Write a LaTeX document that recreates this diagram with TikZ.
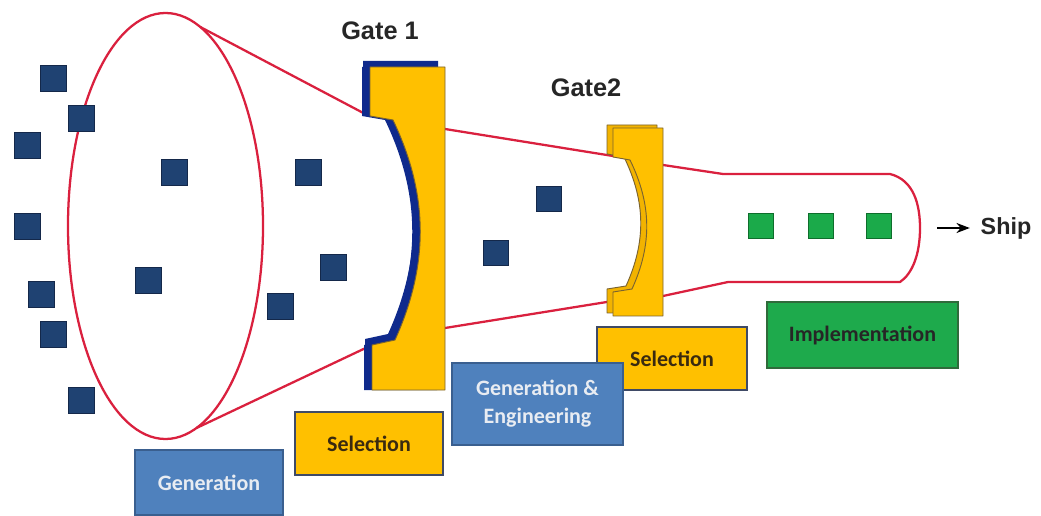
\documentclass[tikz,border=0pt]{standalone}
\usepackage{fontspec}
\usetikzlibrary{arrows.meta}
\newfontfamily\calfont{Carlito}
\newfontfamily\arifont{Liberation Sans}
\definecolor{funnelred}{RGB}{218,32,62}
\definecolor{gateyellow}{HTML}{FFC000}
\definecolor{gateshade}{HTML}{F2B300}
\definecolor{gateedge}{HTML}{7A6330}
\definecolor{gatenavy}{HTML}{0F2A8C}
\definecolor{sqnavy}{HTML}{1F4272}
\definecolor{sqedge}{HTML}{14284A}
\definecolor{sqgreen}{HTML}{1BAA4A}
\definecolor{sqgreenedge}{HTML}{0E6E2C}
\definecolor{boxblue}{HTML}{4F81BD}
\definecolor{boxblueedge}{HTML}{3A5F8F}
\definecolor{boxyellowedge}{HTML}{3F4A66}
\definecolor{boxgreen}{HTML}{1EAA4C}
\definecolor{boxgreenedge}{HTML}{2F6B3A}
\definecolor{seltext}{HTML}{3A2A10}
\definecolor{gentext}{HTML}{E8ECF2}
\begin{document}
\begin{tikzpicture}[x=0.75pt,y=-0.75pt,
  funnel/.style={draw=funnelred,line width=1.7pt,line join=round},
  navysq/.style={draw=sqedge,line width=0.6pt,fill=sqnavy,minimum size=19.5pt,inner sep=0pt},
  greensq/.style={draw=sqgreenedge,line width=0.6pt,fill=sqgreen,minimum size=18.75pt,inner sep=0pt},
  bluebox/.style={draw=boxblueedge,line width=1.2pt,fill=boxblue,text=gentext,font=\calfont\bfseries\fontsize{16.5}{21}\selectfont,align=center,inner sep=0pt},
  yellowbox/.style={draw=boxyellowedge,line width=1.2pt,fill=gateyellow,text=seltext,font=\calfont\bfseries\fontsize{16.5}{21}\selectfont,inner sep=0pt},
  greenbox/.style={draw=boxgreenedge,line width=1.2pt,fill=boxgreen,text=black!85,font=\calfont\bfseries\fontsize{16.5}{21}\selectfont,inner sep=0pt},
  gatelabel/.style={font=\arifont\bfseries\fontsize{19}{22}\selectfont,text=black!85,inner sep=0pt},
  gatefill/.style={fill=gateyellow,draw=gateedge,line width=0.7pt,line join=round}
]
\useasboundingbox[fill=white] (0,0) rectangle (1041,516);

% funnel outline
\draw[funnel] (165.5,226) ellipse [x radius=73.125pt, y radius=159.75pt];
\draw[funnel] (200.3,27) -- (369,116);
\draw[funnel] (196.5,428) -- (372,345);
\draw[funnel] (445,129) -- (613,156);
\draw[funnel] (445,328) -- (613,301);
\draw[funnel] (663,165) -- (723,174) -- (890,174)
  .. controls (914,180) and (920,205) .. (920,228)
  .. controls (920,255) and (912,274) .. (900,282) -- (728,282) -- (663,296);

% Gate 1
\def\gateonepath{(370,67) -- (445,67) -- (445,390) -- (372,390) -- (372,345) -- (395,340) .. controls (429,265) and (429,195) .. (393,120) -- (370,116) -- cycle}
\fill[gatenavy,shift={(-7,-6)}] \gateonepath;
\fill[gatenavy,shift={(-8,0)}] \gateonepath;
\draw[gatefill] \gateonepath;

% Gate 2
\def\gatetwopath{(613,128) -- (663,128) -- (663,316) -- (613,316) -- (613,292) -- (632,289) .. controls (652,245) and (652,205) .. (630,160) -- (613,157) -- cycle}
\draw[gatefill,fill=gateshade,shift={(-6,-3)}] \gatetwopath;
\draw[gatefill] \gatetwopath;

% gate labels
\node[gatelabel] (g1) at (380,31) {Gate 1};
\node[gatelabel] (g2) at (586,88) {Gate2};

% navy squares
\node[navysq] (s1) at (53.7,78.3) {};
\node[navysq] (s2) at (81.2,118.7) {};
\node[navysq] (s3) at (27.3,145.8) {};
\node[navysq] (s4) at (174,172.9) {};
\node[navysq] (s5) at (307.9,172.9) {};
\node[navysq] (s6) at (27.3,226.2) {};
\node[navysq] (s7) at (148,280) {};
\node[navysq] (s8) at (333.7,267) {};
\node[navysq] (s9) at (41.3,294) {};
\node[navysq] (s10) at (280.3,306.7) {};
\node[navysq] (s11) at (53.7,334.5) {};
\node[navysq] (s12) at (81.2,400.8) {};
\node[navysq,minimum size=18.75pt] (s13) at (548.5,199) {};
\node[navysq,minimum size=18.75pt] (s14) at (495.5,252.7) {};

% green squares
\node[greensq] (q1) at (760.8,226.3) {};
\node[greensq] (q2) at (820.8,226.3) {};
\node[greensq] (q3) at (879.2,226.3) {};

% Ship
\coordinate (shipstart) at (937,228);
\node[font=\arifont\bfseries\fontsize{17.5}{20}\selectfont,text=black!85,inner sep=0pt] (ship) at (1006,228) {Ship};
\draw[line width=1.6pt,-{Stealth[length=10pt,width=7.5pt]},shorten >=8pt] (shipstart) -- (ship.west);

% stage boxes
\node[bluebox,minimum width=111pt,minimum height=48.75pt] (gen) at (209,482.5) {Generation};
\node[yellowbox,minimum width=111pt,minimum height=47.25pt] (sel1) at (369,443.5) {Selection};
\node[yellowbox,minimum width=112.5pt,minimum height=47.25pt] (sel2) at (672,358.5) {Selection};
\node[bluebox,minimum width=128.25pt,minimum height=61.5pt] (geneng) at (537.5,404) {Generation \&\\Engineering};
\node[greenbox,minimum width=143.25pt,minimum height=49.5pt] (impl) at (862.5,335) {Implementation};
\end{tikzpicture}
\end{document}
